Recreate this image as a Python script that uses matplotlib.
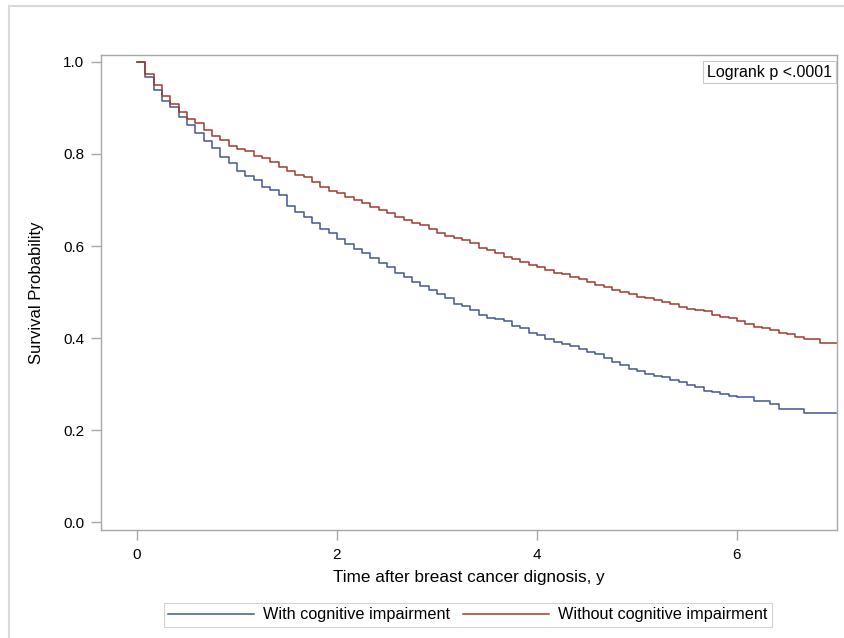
import numpy as np
import matplotlib.pyplot as plt
from matplotlib.patches import Rectangle

plt.rcParams['font.family'] = ['Liberation Sans', 'DejaVu Sans']

# survival estimates at each month (0..84)
months = np.arange(85)
without_ci = [1.000,
              0.973, 0.950, 0.927, 0.909, 0.892, 0.877, 0.867, 0.852, 0.840, 0.830, 0.817, 0.811,
              0.807, 0.796, 0.791, 0.782, 0.772, 0.763, 0.754, 0.749, 0.740, 0.729, 0.720, 0.715,
              0.707, 0.700, 0.693, 0.685, 0.678, 0.671, 0.662, 0.657, 0.649, 0.646, 0.637, 0.629,
              0.622, 0.617, 0.612, 0.607, 0.595, 0.591, 0.584, 0.577, 0.571, 0.565, 0.559, 0.554,
              0.548, 0.542, 0.539, 0.533, 0.528, 0.522, 0.515, 0.510, 0.504, 0.501, 0.496, 0.490,
              0.486, 0.483, 0.478, 0.474, 0.468, 0.464, 0.461, 0.458, 0.450, 0.446, 0.444, 0.438,
              0.430, 0.425, 0.421, 0.417, 0.412, 0.408, 0.402, 0.399, 0.399, 0.390, 0.390, 0.390]
with_ci = [1.000,
           0.968, 0.939, 0.915, 0.903, 0.881, 0.863, 0.846, 0.829, 0.812, 0.794, 0.780, 0.763,
           0.752, 0.743, 0.729, 0.722, 0.711, 0.686, 0.673, 0.664, 0.651, 0.637, 0.628, 0.615,
           0.604, 0.594, 0.585, 0.574, 0.564, 0.555, 0.542, 0.533, 0.521, 0.514, 0.504, 0.496,
           0.486, 0.475, 0.470, 0.461, 0.451, 0.444, 0.441, 0.436, 0.427, 0.421, 0.412, 0.407,
           0.399, 0.391, 0.388, 0.383, 0.376, 0.370, 0.365, 0.356, 0.349, 0.341, 0.333, 0.329,
           0.323, 0.317, 0.315, 0.309, 0.305, 0.298, 0.293, 0.286, 0.282, 0.278, 0.275, 0.271,
           0.271, 0.264, 0.264, 0.257, 0.245, 0.245, 0.245, 0.237, 0.237, 0.237, 0.237, 0.237]
years = months / 12

blue = '#445694'
red = '#A23A2E'
grey = '#A8A8A8'

fig = plt.figure(figsize=(8.45, 6.38), dpi=100)
# light outer border of the graph (only top and left edges visible)
fig.patches.append(Rectangle((9 / 845, -0.1), 1.2, 632 / 638 + 0.1,
                             transform=fig.transFigure, fill=False,
                             edgecolor='#DADADA', linewidth=1.5))
ax = fig.add_axes([101 / 845, 108 / 638, 736 / 845, 475 / 638])

ax.step(years, with_ci, where='post', color=blue, lw=1.1,
        label='With cognitive impairment')
ax.step(years, without_ci, where='post', color=red, lw=1.1,
        label='Without cognitive impairment')

ax.set_xlim(-0.36, 7.0)
ax.set_ylim(-0.017, 1.015)
ax.set_xticks([0, 2, 4, 6])
ax.set_yticks([0.0, 0.2, 0.4, 0.6, 0.8, 1.0])
ax.set_yticklabels(['0.0', '0.2', '0.4', '0.6', '0.8', '1.0'])
for s in ax.spines.values():
    s.set_color(grey)
    s.set_linewidth(1.0)
ax.tick_params(colors=grey, labelcolor='black', labelsize=11, length=7, width=1)
ax.tick_params(axis='x', pad=6)
ax.tick_params(axis='y', pad=5)

ax.set_xlabel('Time after breast cancer dignosis, y', fontsize=12.3)
ax.set_ylabel('Survival Probability', fontsize=12)
ax.xaxis.set_label_coords(0.5, -0.084)
ax.yaxis.set_label_coords(-0.078, 0.5)

ax.text(0.993, 0.98, 'Logrank p <.0001', transform=ax.transAxes, ha='right', va='top',
        fontsize=11.5, bbox=dict(boxstyle='square,pad=0.25', fc='white', ec='#C8C8C8', lw=0.8))

leg = fig.legend(loc='center', bbox_to_anchor=(468 / 845, 1 - 615 / 638), ncol=2,
                 fontsize=11.7, frameon=True, fancybox=False, handlelength=5.3,
                 columnspacing=0.8, borderpad=0.25, handletextpad=0.55)
leg.get_frame().set_edgecolor('#C8C8C8')
leg.get_frame().set_linewidth(0.8)

fig.savefig('out.png', dpi=100)
